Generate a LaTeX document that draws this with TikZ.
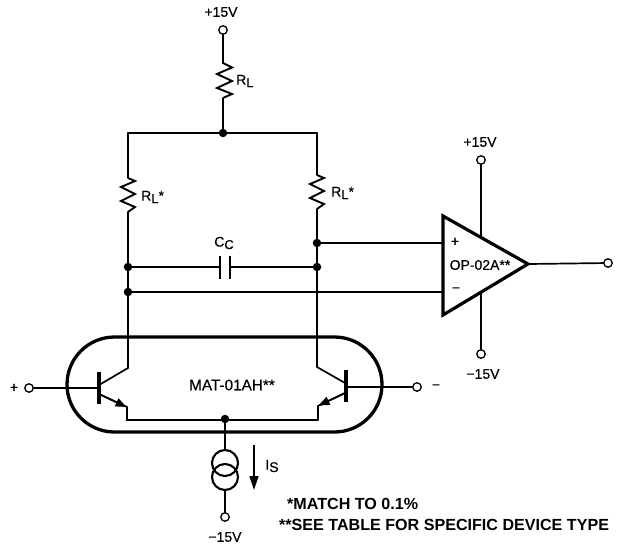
\documentclass[tikz,border=0pt]{standalone}
\usepackage{fontspec}
\setmainfont{Liberation Sans}
\newfontfamily\medf{Liberation Sans}[FakeBold=0.35]
\usetikzlibrary{arrows.meta,calc}
\tikzset{
  wire/.style={line width=1.7pt,line cap=round,line join=miter},
  term/.style={circle,draw,line width=1.3pt,fill=white,minimum size=8.5pt,inner sep=0pt},
  dotj/.style={circle,fill=black,minimum size=8.5pt,inner sep=0pt},
  lab/.style={inner sep=0pt,font=\medf\fontsize{14}{16}\selectfont},
  note/.style={inner sep=0pt,anchor=west,font=\fontsize{16.1}{18}\selectfont\bfseries},
  res/.style={line width=1.9pt,line join=miter},
  emit/.style={-{Triangle[length=11pt,width=8.5pt]},line width=1.7pt},
  bar/.style={line width=4pt}
}
\newcommand{\rlsub}[1]{R\raisebox{-2.5pt}{\fontsize{13}{14}\selectfont L}#1}
\begin{document}
\begin{tikzpicture}[x=1pt,y=-1pt]
\useasboundingbox (0,0) rectangle (621,547);
% terminals and junctions
\node[term] (vtop) at (223,30) {};
\node[dotj] (jtop) at (223,133) {};
\node[dotj] (jl1) at (128,267) {};
\node[dotj] (jl2) at (128,292) {};
\node[dotj] (jr1) at (317,243) {};
\node[dotj] (jr2) at (317,267) {};
\node[dotj] (jbot) at (225,419) {};
\node[term] (vminus) at (225,517) {};
\node[term] (out) at (608,263) {};
\node[term] (opvp) at (481,160) {};
\node[term] (opvm) at (481,354) {};
\node[term] (inp) at (29,388) {};
\node[term] (inm) at (417,387) {};
\coordinate (opT) at (443,216);
\coordinate (opB) at (443,315);
\coordinate (opO) at (528,264);
\coordinate (tl) at (128,133);
\coordinate (tr) at (317,133);
% top resistor
\draw[wire] (vtop) -- (223,61);
\draw[res] (223,61) -- (223,63) -- (232,67.5) -- (217,74) -- (232,81) -- (217,88) -- (232,94) -- (223,98);
\draw[wire] (223,98) -- (jtop);
% rails
\draw[wire] (tl) -- (tr);
\draw[wire] (tl) -- (128,178);
\draw[res] (128,178) -- (135,181) -- (121,187) -- (135,194) -- (121,201) -- (135,207) -- (128,212);
\draw[wire] (128,212) -- (jl1) -- (jl2) -- (128,368);
\draw[wire] (tr) -- (317,175);
\draw[res] (317,175) -- (324,178) -- (310,184) -- (324,191) -- (310,198) -- (324,204) -- (317,209);
\draw[wire] (317,209) -- (jr1) -- (jr2) -- (317,367);
% capacitor
\coordinate (capl) at (220,267);
\coordinate (capr) at (230,267);
\draw[wire] (jl1) -- (capl);
\draw[wire] (capr) -- (jr2);
\draw[line width=2.4pt] (220,256) -- (220,279);
\draw[line width=2.4pt] (230,256) -- (230,279);
% op-amp
\draw[wire] (jr1) -- (443,243);
\draw[wire] (jl2) -- (443,292);
\draw[wire] (opvp) -- (481,238);
\draw[wire] (opvm) -- (481,292);
\draw[wire] (opO) -- (out);
\draw[line width=3.2pt,line join=miter,fill=white] (opT) -- (opO) -- (opB) -- cycle;
% package
\draw[line width=3.3pt,rounded corners=47.5pt] (67,337) rectangle (382,432);
% left transistor
\draw[wire] (inp) -- (98,388);
\draw[bar] (98.5,372) -- (98.5,404);
\draw[wire] (128,368) -- (99,385);
\coordinate (qle) at (127,407);
\draw[wire] (99,394) -- (qle) -- (127,420) -- (318,420);
\draw[emit] (99,394) -- (126.5,407);
% right transistor
\draw[wire] (inm) -- (345,387);
\draw[bar] (345.5,370) -- (345.5,402);
\draw[wire] (317,367) -- (345,383);
\coordinate (qre) at (318,406);
\draw[wire] (345,393) -- (qre) -- (318,420);
\draw[emit] (345,393) -- (318.5,405.5);
% current source
\coordinate (csa) at (225,450);
\coordinate (csb) at (225,490);
\draw[wire] (jbot) -- (csa);
\draw[wire] (csb) -- (vminus);
\draw[line width=2.1pt] (225,463) circle[radius=13];
\draw[line width=2.1pt] (225,477) circle[radius=13];
% current arrow
\coordinate (ia) at (254,445);
\coordinate (ib) at (254,490);
\draw[line width=1.4pt,-{Triangle[length=14pt,width=9pt]}] (ia) -- (ib);
% labels
\node[lab] (l1) at (221,12) {+15V};
\node[lab,anchor=west] (l2) at (236,81) {\rlsub{}};
\node[lab,anchor=west] (l3) at (141,197) {\rlsub{*}};
\node[lab,anchor=west] (l4) at (331,193) {\rlsub{*}};
\node[lab] (l5) at (224,243) {C\raisebox{-2.5pt}{\fontsize{13}{14}\selectfont C}};
\node[lab] (l6) at (480,142) {+15V};
\node[lab] (l7) at (483,374) {−15V};
\node[lab] (l8) at (225,537) {−15V};
\node[lab] (l9) at (14,388) {+};
\node[lab] (l10) at (436,387) {−};
\node[lab] (l11) at (455,242) {+};
\node[lab] (l12) at (456,290) {−};
\node[lab] (l13) at (480,265) {OP-02A**};
\node[lab,font=\medf\fontsize{15.3}{17}\selectfont] (l14) at (232,385) {MAT-01AH**};
\node[lab] (l15) at (272,466) {I\raisebox{-2.5pt}{S}};
\node[note] (n1) at (287,504) {*MATCH TO 0.1\%};
\node[note] (n2) at (279,525) {**SEE TABLE FOR SPECIFIC DEVICE TYPE};
\end{tikzpicture}
\end{document}
